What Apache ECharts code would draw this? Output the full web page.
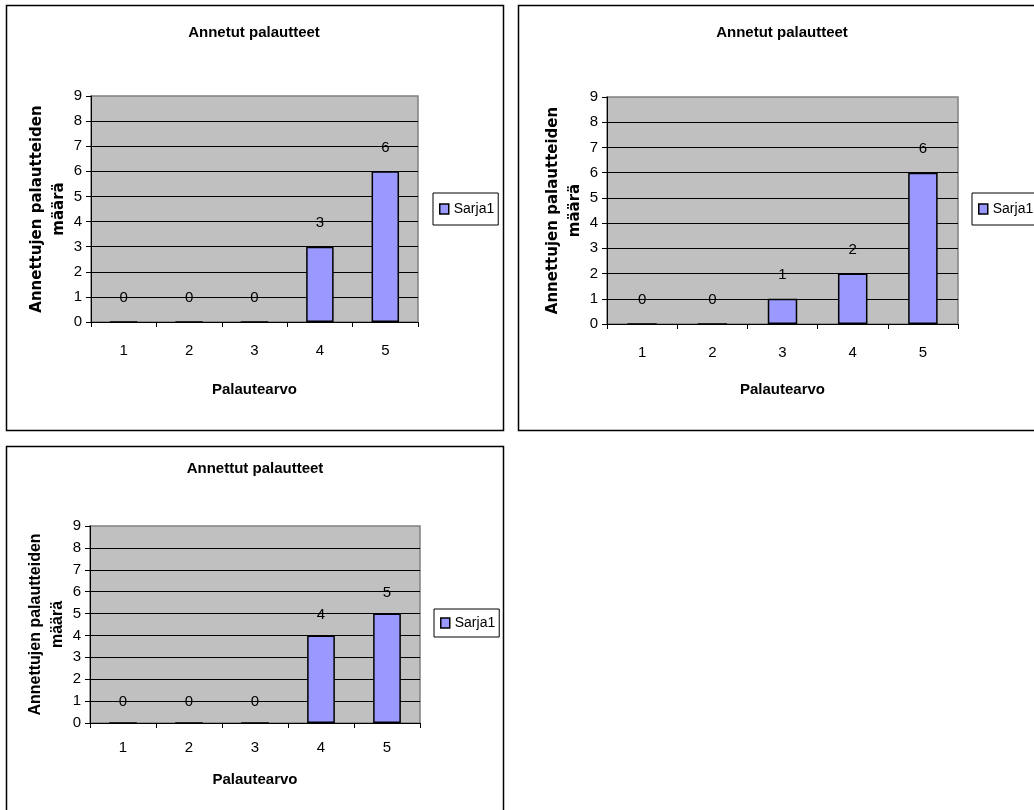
<!DOCTYPE html>
<html>
<head>
<meta charset="utf-8">
<script src="https://cdn.jsdelivr.net/npm/echarts@6/dist/echarts.min.js"></script>
<style>
  html, body { margin: 0; padding: 0; background: #fff; }
  #main { width: 1034px; height: 810px; }
</style>
</head>
<body>
<div id="main"></div>
<script>
// arvot luettu kuvasta
const categories = ['1', '2', '3', '4', '5'];
const sarja1A = [0, 0, 0, 3, 6];
const sarja1B = [0, 0, 1, 2, 6];
const sarja1C = [0, 0, 0, 4, 5];
const titles = ['Annetut palautteet', 'Annetut palautteet', 'Annettut palautteet'];
const seriesName = 'Sarja1';
const xName = 'Palautearvo';
const yName = 'Annettujen palautteiden\nmäärä';

const font = "'Liberation Sans', Arial, sans-serif";
const chart = echarts.init(document.getElementById('main'), null, { renderer: 'canvas' });

// paneelien asettelu (pikseleinä)
const panels = [
  { grid: { left: 91, top: 96, width: 327, height: 226 }, titleX: 254, titleY: 25,
    legend: { left: 433, top: 193, padding: [9, 4, 9, 6] }, xGap: 60, xMargin: 21,
    yGap: 19, yFont: 'DejaVu Sans', ySize: 15, labelDist: 16, data: sarja1A },
  { grid: { left: 607, top: 97, width: 351, height: 227 }, titleX: 782, titleY: 25,
    legend: { left: 972, top: 193, padding: [9, 4, 9, 6] }, xGap: 58, xMargin: 21,
    yGap: 19, yFont: 'DejaVu Sans', ySize: 15, labelDist: 16, data: sarja1B },
  { grid: { left: 90, top: 526, width: 330, height: 197 }, titleX: 255, titleY: 461,
    legend: { left: 434, top: 609, padding: [7, 4, 7, 6] }, xGap: 49, xMargin: 17,
    yGap: 20, yFont: font, ySize: 16, labelDist: 13, data: sarja1C }
];

const option = {
  animation: false,
  backgroundColor: '#fff',
  title: panels.map((p, i) => ({
    text: titles[i],
    left: p.titleX,
    top: p.titleY,
    textAlign: 'center',
    padding: 0,
    textStyle: { fontFamily: font, fontSize: 15, fontWeight: 'bold', color: '#000' }
  })),
  legend: panels.map(p => ({
    data: [seriesName],
    left: p.legend.left,
    top: p.legend.top,
    padding: p.legend.padding,
    orient: 'vertical',
    backgroundColor: '#fff',
    borderColor: '#000',
    borderWidth: 1,
    borderRadius: 0,
    itemWidth: 9,
    itemHeight: 10,
    icon: 'rect',
    itemStyle: { color: '#9999ff', borderColor: '#000', borderWidth: 1.5 },
    textStyle: { fontFamily: font, fontSize: 14, color: '#000' },
    selectedMode: false
  })),
  grid: panels.map(p => ({
    left: p.grid.left, top: p.grid.top, width: p.grid.width, height: p.grid.height,
    show: true, backgroundColor: '#c0c0c0', borderColor: '#808080', borderWidth: 1.5
  })),
  xAxis: panels.map((p, i) => ({
    type: 'category',
    gridIndex: i,
    data: categories,
    name: xName,
    nameLocation: 'middle',
    nameGap: p.xGap,
    nameTextStyle: { fontFamily: font, fontSize: 15, fontWeight: 'bold', color: '#000' },
    axisLine: { lineStyle: { color: '#000', width: 1 } },
    axisTick: { show: true, length: 5, lineStyle: { color: '#000' } },
    axisLabel: { fontFamily: font, fontSize: 15, color: '#000', margin: p.xMargin }
  })),
  yAxis: panels.map((p, i) => ({
    type: 'value',
    gridIndex: i,
    min: 0,
    max: 9,
    interval: 1,
    name: yName,
    nameLocation: 'middle',
    nameRotate: 90,
    nameGap: p.yGap,
    nameTextStyle: { fontFamily: p.yFont, fontSize: p.ySize, fontWeight: 'bold', color: '#000', lineHeight: 22, align: 'center' },
    axisLine: { show: true, lineStyle: { color: '#000', width: 1 } },
    axisTick: { show: true, length: 5, lineStyle: { color: '#000' } },
    axisLabel: { fontFamily: font, fontSize: 15, color: '#000', margin: 9 },
    splitLine: { show: true, showMaxLine: false, lineStyle: { color: '#000', width: 1 } }
  })),
  series: panels.map((p, i) => ({
    name: seriesName,
    type: 'bar',
    xAxisIndex: i,
    yAxisIndex: i,
    data: p.data,
    barWidth: '42%',
    itemStyle: { color: '#9999ff', borderColor: '#000', borderWidth: 1.5 },
    label: {
      show: true, position: 'top', distance: p.labelDist,
      fontFamily: font, fontSize: 15, color: '#000'
    }
  })),
  graphic: [
    { type: 'rect', shape: { x: 6.5, y: 5.5, width: 497, height: 425 }, style: { fill: null, stroke: '#000', lineWidth: 1.5 }, silent: true },
    { type: 'rect', shape: { x: 518.5, y: 5.5, width: 540, height: 425 }, style: { fill: null, stroke: '#000', lineWidth: 1.5 }, silent: true },
    { type: 'rect', shape: { x: 6.5, y: 446.5, width: 497, height: 380 }, style: { fill: null, stroke: '#000', lineWidth: 1.5 }, silent: true }
  ]
};

chart.setOption(option);
</script>
</body>
</html>
